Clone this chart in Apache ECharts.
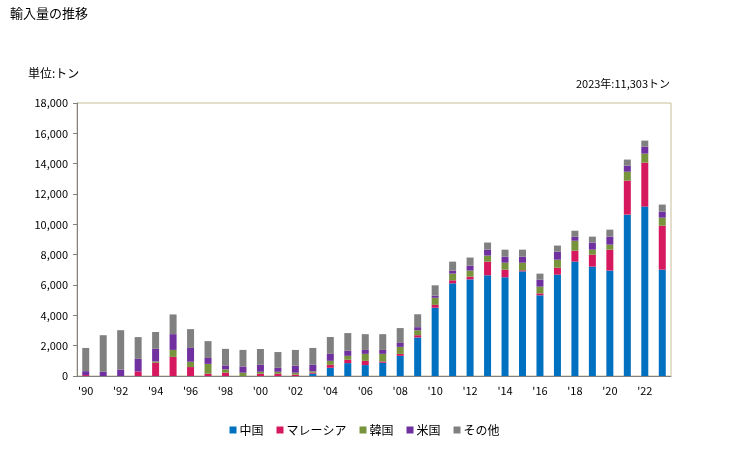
<!DOCTYPE html>
<html>
<head>
<meta charset="utf-8">
<script src="https://cdn.jsdelivr.net/npm/echarts@6/dist/echarts.min.js"></script>
<style>
html,body{margin:0;padding:0;background:#fff;}
#chart{width:729px;height:450px;}
</style>
</head>
<body>
<div id="chart"></div>
<script>
var categories = ["'90","'91","'92","'93","'94","'95","'96","'97","'98","'99","'00","'01","'02","'03","'04","'05","'06","'07","'08","'09","'10","'11","'12","'13","'14","'15","'16","'17","'18","'19","'20","'21","'22","'23"];
var seriesNames = ['中国','マレーシア','韓国','米国','その他'];
var china = [0,0,0,0,0,0,0,0,0,0,0,0,0,150,540,850,720,870,1330,2540,4500,6110,6370,6640,6510,6900,5320,6680,7540,7210,6950,10640,11170,7010];
var malaysia = [60,0,0,300,870,1260,590,150,220,0,150,150,90,65,200,220,280,90,130,150,190,200,180,900,500,70,130,460,720,790,1380,2240,2900,2900];
var korea = [0,0,0,0,90,460,350,650,220,220,130,130,130,90,260,260,460,500,460,330,470,440,400,400,460,500,440,530,660,330,330,590,590,530];
var usa = [260,280,430,830,830,1040,910,390,260,410,460,260,460,435,460,330,260,260,260,200,140,200,330,400,400,400,460,530,260,460,530,400,460,400];
var others = [1530,2410,2590,1435,1110,1300,1240,1110,1090,1090,1040,1040,1040,1110,1110,1170,1040,1040,980,850,680,590,530,460,460,460,400,400,400,400,460,400,400,463];
var yTicks = {min:0, max:18000, interval:2000};
var titleText = '輸入量の推移';
var unitText = '単位:トン';
var noteText = '2023年:11,303トン';

var colors = ['#0070c0','#d6185f','#77933c','#7030a0','#808080'];
var font = '"Noto Sans CJK JP","Noto Sans",sans-serif';
var dataSets = [china, malaysia, korea, usa, others];

var chart = echarts.init(document.getElementById('chart'), null, {renderer:'canvas'});
chart.setOption({
  animation:false,
  textStyle:{fontFamily:font},
  title:{text:titleText,left:5,top:2,textStyle:{fontSize:13,fontWeight:'normal',color:'#000',fontFamily:font}},
  graphic:[
    {type:'text',left:28,top:67,style:{text:unitText,fill:'#000',font:'12px '+font}},
    {type:'text',right:59,top:78,style:{text:noteText,fill:'#000',font:'11px '+font}}
  ],
  legend:{
    data:seriesNames,bottom:9,left:'center',itemWidth:7,itemHeight:7,itemGap:13,
    icon:'rect',textStyle:{fontSize:12,color:'#000',fontFamily:font,padding:[0,0,0,-2]}
  },
  grid:{left:77,right:58,top:103,bottom:74,show:true,borderColor:'#c8bd9a',borderWidth:1,containLabel:false},
  xAxis:{
    type:'category',data:categories,
    axisLine:{show:true,lineStyle:{color:'#808080',width:1}},
    axisTick:{show:false},
    axisLabel:{interval:1,color:'#000',fontSize:11,margin:9,fontFamily:font},
    splitLine:{show:false}
  },
  yAxis:{
    type:'value',min:yTicks.min,max:yTicks.max,interval:yTicks.interval,
    axisLine:{show:true,lineStyle:{color:'#808080',width:1}},
    axisTick:{show:true,length:4,lineStyle:{color:'#808080'}},
    axisLabel:{color:'#000',fontSize:11,margin:9,fontFamily:font,
      formatter:function(v){return v.toLocaleString('en-US');}},
    splitLine:{show:false}
  },
  series:seriesNames.map(function(n,i){
    return {name:n,type:'bar',stack:'total',data:dataSets[i],barWidth:7,
      itemStyle:{color:colors[i]}};
  })
});
</script>
</body>
</html>
